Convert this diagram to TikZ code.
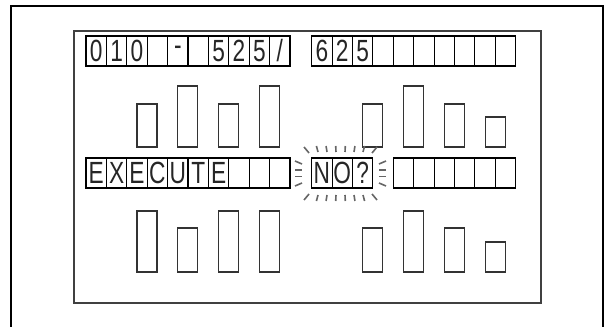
\documentclass[tikz,border=0pt]{standalone}
\usepackage{fontspec}
\newfontfamily\lcdfont[FakeStretch=0.74]{Liberation Sans}
\begin{document}
\begin{tikzpicture}[x=0.75pt,y=-0.75pt,
  cell/.style={draw=black, line width=0.8pt, minimum width=15.3pt, minimum height=22.5pt,
    inner sep=0pt, outer sep=0pt, anchor=north west,
    font=\lcdfont\fontsize{23}{23}\selectfont, text=black!85},
  bar/.style={draw=black!80, line width=0.9pt},
  ray/.style={draw=black!60, line width=1.2pt},
  outerframe/.style={draw=black, line width=1.6pt},
  innerframe/.style={draw=black!75, line width=1.1pt}]
\useasboundingbox (0,0) rectangle (605,327);
% frames
\draw[outerframe] (11,327) -- (11,6) -- (603,6) -- (603,327);
\draw[innerframe] (74,31) rectangle (541,303);
% top row
\foreach \c [count=\i from 0] in {0,1,0,{},-,{},5,2,5,/}
  \node[cell] (tl\i) at ({86+\i*20.4},36) {\c};
\foreach \c [count=\i from 0] in {6,2,5,{},{},{},{},{},{},{}}
  \node[cell] (tr\i) at ({311.7+\i*20.4},36) {\c};
% middle row
\foreach \c [count=\i from 0] in {E,X,E,C,U,T,E,{},{},{}}
  \node[cell] (ml\i) at ({86+\i*20.4},158) {\c};
\foreach \c [count=\i from 0] in {N,O,?}
  \node[cell] (mr\i) at ({311.7+\i*20.4},158) {\c};
\foreach \i in {4,...,9}
  \node[cell] (mr\i) at ({311.7+\i*20.4},158) {};
% upper bars
\foreach \x/\t in {137/104,177.8/86,218.6/104,259.4/86,362.7/104,403.5/86,444.3/104,485.1/117}
  \draw[bar] (\x,\t) rectangle ({\x+20},147);
% lower bars
\foreach \x/\t in {137/211,177.8/228,218.6/211,259.4/211,362.7/228,403.5/211,444.3/228,485.1/242}
  \draw[bar] (\x,\t) rectangle ({\x+20},272);
% flashing rays around NO?
\foreach \x in {318,327,336,345,354,363} {
  \draw[ray] (\x,152) -- ({\x+(\x-340.5)*0.07},146);
  \draw[ray] (\x,195) -- ({\x+(\x-340.5)*0.07},201);
}
\draw[ray] (304,147) -- (309,153);
\draw[ray] (377,147) -- (372,153);
\draw[ray] (304,200) -- (309,194);
\draw[ray] (377,200) -- (372,194);
\draw[ray] (302,164) -- (295,161);
\draw[ray] (295,170) -- (302,170);
\draw[ray] (295,176.5) -- (302,176.5);
\draw[ray] (302,183) -- (295,186);
\draw[ray] (379,164) -- (386,161);
\draw[ray] (386,170) -- (379,170);
\draw[ray] (386,176.5) -- (379,176.5);
\draw[ray] (379,183) -- (386,186);
\end{tikzpicture}
\end{document}
